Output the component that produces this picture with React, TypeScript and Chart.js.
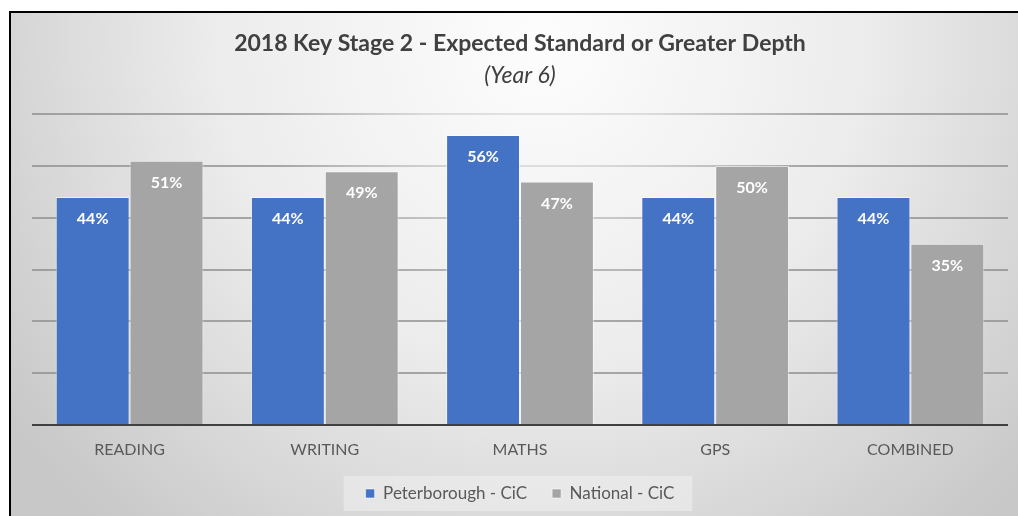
import React, { useEffect, useRef } from 'react';
import { Chart, registerables } from 'chart.js';

Chart.register(...registerables);

const categories = ['READING', 'WRITING', 'MATHS', 'GPS', 'COMBINED'];
const peterborough = [44, 44, 56, 44, 44];
const national = [51, 49, 47, 50, 35];
const seriesNames = ['Peterborough - CiC', 'National - CiC'];
const yMin = 0;
const yMax = 60;
const yStep = 10;
const titleText = '2018 Key Stage 2 - Expected Standard or Greater Depth';
const subtitleText = '(Year 6)';

const FONT = 'Lato, "Open Sans", sans-serif';

const backgroundPlugin = {
  id: 'bgPlugin',
  beforeDraw(chart: any) {
    const ctx = chart.ctx;
    const w = chart.width;
    const h = chart.height;
    ctx.save();
    ctx.fillStyle = '#ffffff';
    ctx.fillRect(0, 0, w, h);
    const g = ctx.createRadialGradient(540, 40, 0, 540, 40, 650);
    g.addColorStop(0, '#fdfdfd');
    g.addColorStop(0.5, '#ececec');
    g.addColorStop(1, '#c8c8c8');
    ctx.fillStyle = g;
    ctx.fillRect(9, 11, w - 9, h - 11);
    ctx.fillStyle = '#000000';
    ctx.fillRect(9, 11, w - 9, 2);
    ctx.fillRect(9, 11, 2, h - 11);
    // legend background box
    const lg = chart.legend;
    if (lg && lg.legendHitBoxes && lg.legendHitBoxes.length) {
      const boxes = lg.legendHitBoxes;
      let l = Infinity, r = -Infinity, t = Infinity, b = -Infinity;
      boxes.forEach((bx: any) => {
        l = Math.min(l, bx.left);
        r = Math.max(r, bx.left + bx.width);
        t = Math.min(t, bx.top);
        b = Math.max(b, bx.top + bx.height);
      });
      const cy = (t + b) / 2;
      ctx.fillStyle = 'rgba(240,240,240,0.55)';
      ctx.fillRect(l - 22, cy - 17.5, r - l + 40, 35);
    }
    ctx.restore();
  },
};

const labelPlugin = {
  id: 'valueLabels',
  afterDatasetsDraw(chart: any) {
    const ctx = chart.ctx;
    ctx.save();
    ctx.font = `bold 16px ${FONT}`;
    ctx.fillStyle = '#ffffff';
    ctx.textAlign = 'center';
    ctx.textBaseline = 'middle';
    chart.data.datasets.forEach((ds: any, di: number) => {
      const meta = chart.getDatasetMeta(di);
      meta.data.forEach((el: any, i: number) => {
        ctx.fillText(`${ds.data[i]}%`, el.x, el.y + 22);
      });
    });
    ctx.restore();
  },
};

export default function App() {
  const ref = useRef<HTMLCanvasElement | null>(null);

  useEffect(() => {
    if (!ref.current) return;
    let gridGrad: any = null;
    const chart = new Chart(ref.current, {
      type: 'bar',
      data: {
        labels: categories,
        datasets: [
          {
            label: seriesNames[0],
            data: peterborough,
            backgroundColor: '#4472C4',
            borderColor: 'rgba(255,255,255,0.55)',
            borderWidth: 1,
          },
          {
            label: seriesNames[1],
            data: national,
            backgroundColor: '#A5A5A5',
            borderColor: 'rgba(255,255,255,0.55)',
            borderWidth: 1,
          },
        ],
      },
      options: {
        responsive: false,
        animation: false,
        devicePixelRatio: 1,
        layout: { padding: { left: 32, right: 10, top: 0, bottom: 4 } },
        datasets: {
          bar: { categoryPercentage: 0.757, barPercentage: 1 },
        },
        scales: {
          x: {
            grid: { display: false, drawTicks: false },
            border: { display: false },
            ticks: {
              color: '#595959',
              font: { family: FONT, size: 16 },
              padding: 15,
            },
            afterFit: (s: any) => {
              s.height = 35;
            },
          },
          y: {
            min: yMin,
            max: yMax,
            ticks: { display: false, stepSize: yStep },
            border: { display: false },
            grid: {
              drawTicks: false,
              lineWidth: 2,
              color: (c: any) => {
                if (c.tick && c.tick.value === 0) return '#404040';
                if (!gridGrad) {
                  const g = c.chart.ctx.createRadialGradient(540, 40, 0, 540, 40, 650);
                  g.addColorStop(0, '#e8e8e8');
                  g.addColorStop(0.2, '#dcdcdc');
                  g.addColorStop(0.45, '#a6a6a6');
                  g.addColorStop(1, '#9c9c9c');
                  gridGrad = g;
                }
                return gridGrad;
              },
            },
          },
        },
        plugins: {
          title: {
            display: true,
            text: titleText,
            color: '#404040',
            font: { family: FONT, size: 23, weight: 'bold' },
            padding: { top: 30, bottom: 0 },
          },
          subtitle: {
            display: true,
            text: subtitleText,
            color: '#404040',
            font: { family: FONT, size: 23, style: 'italic' },
            padding: { top: 4, bottom: 25 },
          },
          legend: {
            position: 'bottom',
            labels: {
              boxWidth: 9,
              boxHeight: 9,
              padding: 25,
              color: '#595959',
              font: { family: FONT, size: 17 },
            },
          },
          tooltip: { enabled: false },
        },
      },
      plugins: [backgroundPlugin, labelPlugin],
    } as any);
    return () => chart.destroy();
  }, []);

  return (
    <div style={{ position: 'absolute', left: 0, top: 0, width: 1018, height: 516 }}>
      <canvas ref={ref} width={1018} height={516} style={{ display: 'block' }} />
    </div>
  );
}
